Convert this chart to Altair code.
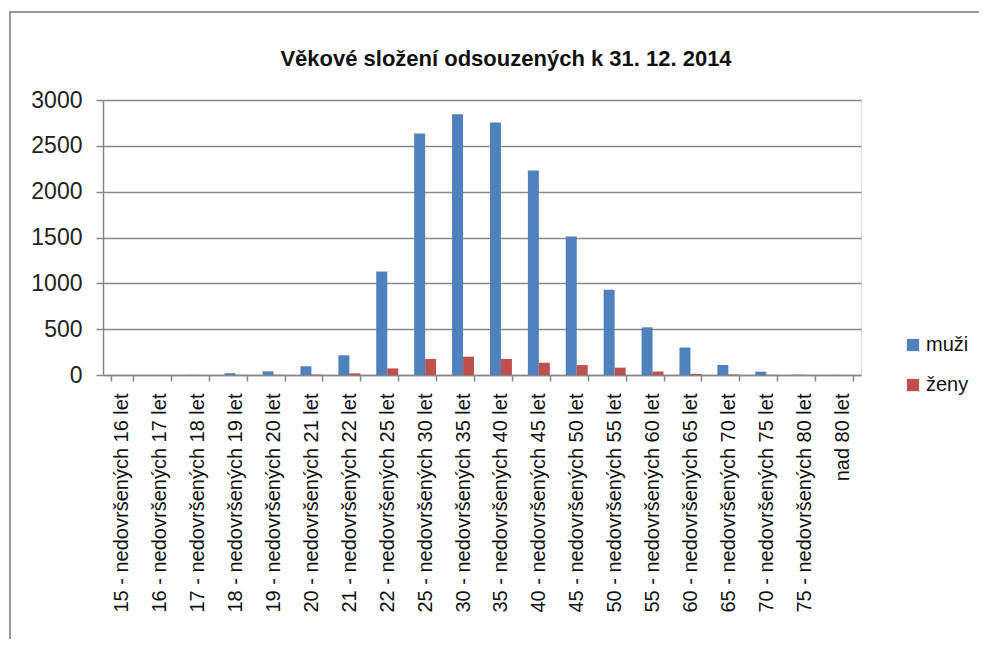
import altair as alt
import pandas as pd

categories = [
    "15 - nedovršených 16 let", "16 - nedovršených 17 let", "17 - nedovršených 18 let",
    "18 - nedovršených 19 let", "19 - nedovršených 20 let", "20 - nedovršených 21 let",
    "21 - nedovršených 22 let", "22 - nedovršených 25 let", "25 - nedovršených 30 let",
    "30 - nedovršených 35 let", "35 - nedovršených 40 let", "40 - nedovršených 45 let",
    "45 - nedovršených 50 let", "50 - nedovršených 55 let", "55 - nedovršených 60 let",
    "60 - nedovršených 65 let", "65 - nedovršených 70 let", "70 - nedovršených 75 let",
    "75 - nedovršených 80 let", "nad 80 let",
]
muzi = [0, 0, 1, 20, 40, 95, 215, 1130, 2635, 2845, 2755, 2230, 1510, 930, 520, 300, 110, 36, 4, 1]
zeny = [0, 0, 0, 1, 2, 4, 18, 72, 175, 200, 175, 134, 108, 80, 38, 12, 5, 2, 0, 0]
series = ["muži", "ženy"]
colors = ["#4F81BD", "#C0504D"]
y_ticks = [0, 500, 1000, 1500, 2000, 2500, 3000]
title_text = "Věkové složení odsouzených k 31. 12. 2014"

rows = []
for c, m, z in zip(categories, muzi, zeny):
    rows.append({"kat": c, "pohlavi": series[0], "pocet": m})
    rows.append({"kat": c, "pohlavi": series[1], "pocet": z})
df = pd.DataFrame(rows)

FONT = "Liberation Sans, Arial, sans-serif"
W, H = 758, 275

frame = alt.Chart(alt.Data(values=[{}])).mark_rect(
    fill="white", fillOpacity=0, stroke="#9a9a9a", strokeWidth=2
).encode(
    x=alt.value(-93), x2=alt.value(1200), y=alt.value(-88), y2=alt.value(900)
)

title = alt.Chart(alt.Data(values=[{}])).mark_text(
    font=FONT, fontSize=22, fontWeight="bold", color="#111",
    align="center", baseline="alphabetic"
).encode(
    x=alt.value(403), y=alt.value(-34), text=alt.value(title_text)
)

bars = alt.Chart(df).mark_bar().encode(
    x=alt.X("kat:N", sort=categories, title=None,
            scale=alt.Scale(paddingInner=0.42, paddingOuter=0.21),
            axis=alt.Axis(labelAngle=-90, labelFont=FONT, labelFontSize=20,
                          labelColor="#111", tickBand="extent", tickSize=6,
                          tickColor="#868686", tickWidth=1.5,
                          domainColor="#868686", domainWidth=1.5,
                          labelPadding=12, grid=False, labelLimit=400)),
    xOffset=alt.XOffset("pohlavi:N", sort=series, scale=alt.Scale(paddingInner=0, paddingOuter=0)),
    y=alt.Y("pocet:Q", title=None,
            scale=alt.Scale(domain=[0, 3000], nice=False),
            axis=alt.Axis(values=y_ticks, format="d", labelFont=FONT, labelFontSize=23,
                          labelColor="#222", tickSize=7, tickColor="#868686",
                          tickWidth=1.5, domainColor="#868686", domainWidth=1.5,
                          gridColor="#8a8a8a", gridWidth=1.5, labelPadding=14)),
    color=alt.Color("pohlavi:N", sort=series,
                    scale=alt.Scale(domain=series, range=colors),
                    legend=alt.Legend(title=None, orient="none", legendX=800, legendY=235,
                                      symbolType="square", symbolSize=150,
                                      symbolStrokeWidth=0, labelFont=FONT,
                                      labelFontSize=20, labelColor="#111",
                                      rowPadding=20, labelOffset=3, padding=0)),
)

chart = alt.layer(frame, title, bars).properties(
    width=W, height=H,
    autosize=alt.AutoSizeParams(type="none"),
    padding={"left": 95, "top": 92, "right": 118, "bottom": 264},
).configure_view(stroke=None).configure(background="white")

chart.save("out.html", embed_options={"renderer": "svg", "actions": False})
